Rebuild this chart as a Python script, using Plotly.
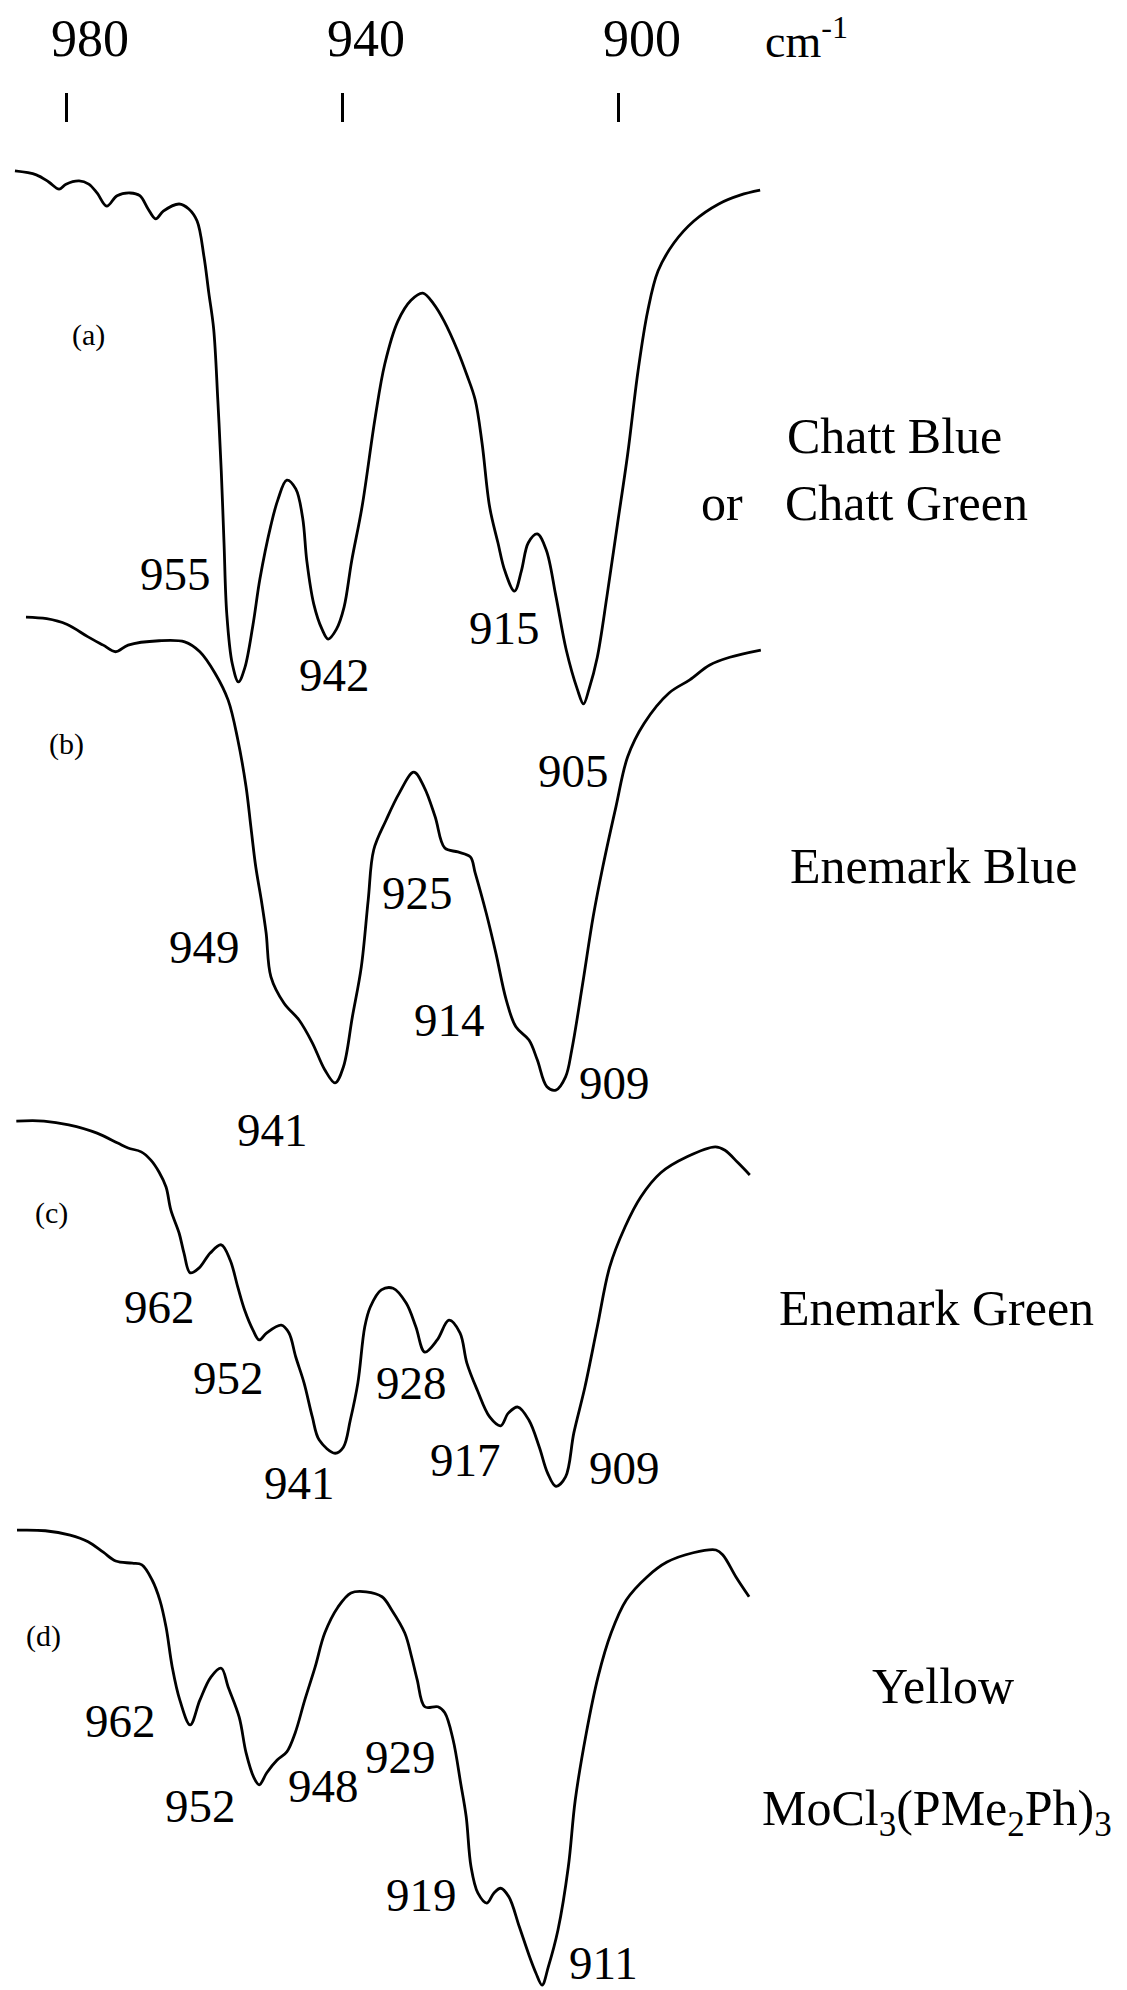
import plotly.graph_objects as go

# Wavenumber scale printed across the top (cm-1)
tick_values = [980, 940, 900]
tick_labels = ["980", "940", "900"]

# (a) Chatt Blue / Chatt Green
wn_a = [987.4, 984.3, 982.5, 981.0, 980.0, 978.1, 976.7, 975.5, 974.1, 972.6,
        970.7, 969.3, 968.1, 967.0, 965.9, 963.6, 962.2, 961.0, 960.0, 959.3,
        958.6, 958.0, 957.5, 957.1, 956.7, 955.9, 955.0, 954.1, 952.9, 951.9,
        950.3, 949.3, 948.0, 946.7, 945.7, 945.1, 944.1, 942.9, 942.0, 940.8,
        939.7, 938.6, 937.1, 935.2, 933.8, 931.9, 930.0, 928.3, 926.7, 925.2,
        923.3, 921.9, 920.7, 919.7, 918.6, 917.4, 916.4, 915.0, 914.0, 913.0,
        911.7, 910.4, 909.0, 907.5, 905.9, 905.0, 904.2, 903.0, 901.6, 900.1,
        898.6, 897.1, 895.7, 894.2, 891.9, 889.0, 885.4, 882.3, 879.4]
t_a = [98.0, 97.3, 96.0, 94.7, 95.6, 96.2, 95.6, 94.0, 91.6, 93.5,
       94.0, 93.5, 91.1, 89.3, 90.7, 92.0, 91.1, 88.9, 82.4, 75.8,
       69.3, 56.4, 43.5, 30.4, 17.5, 8.4, 5.1, 7.6, 15.5, 23.8,
       33.6, 38.2, 41.8, 40.2, 34.9, 27.1, 19.3, 14.7, 12.9, 14.7,
       18.7, 27.1, 36.9, 53.1, 62.9, 70.7, 74.5, 75.8, 73.8, 70.7,
       65.5, 60.9, 56.4, 48.5, 36.9, 30.4, 25.3, 21.6, 25.3, 30.4,
       32.0, 29.1, 20.7, 10.9, 3.8, 1.1, 3.8, 9.6, 20.7, 33.6,
       46.5, 61.6, 72.5, 79.8, 84.9, 88.9, 92.0, 93.6, 94.5]

# (b) Enemark Blue
wn_b = [985.8, 982.8, 979.9, 976.8, 974.6, 972.8, 971.0, 966.5, 962.8, 960.6,
        958.4, 956.5, 955.1, 953.9, 953.2, 952.5, 951.7, 951.0, 950.3, 948.4,
        946.2, 944.3, 942.5, 941.0, 939.8, 938.5, 937.2, 936.2, 935.4, 933.6,
        931.7, 929.6, 928.1, 926.5, 925.1, 923.2, 921.4, 920.7, 919.1, 917.7,
        916.2, 914.8, 912.9, 911.7, 910.3, 909.0, 907.6, 906.7, 905.1, 903.6,
        902.2, 900.3, 898.6, 896.2, 892.6, 889.6, 886.7, 883.8, 879.3]
t_b = [87.8, 87.5, 86.5, 84.2, 82.7, 81.5, 82.7, 83.5, 83.3, 81.5,
       77.6, 72.7, 65.5, 56.9, 49.6, 42.4, 36.4, 30.4, 22.4, 17.6,
       14.5, 10.4, 5.5, 3.1, 6.0, 15.1, 24.2, 36.4, 45.5, 50.9,
       55.8, 59.6, 56.9, 51.5, 45.8, 45.1, 44.2, 41.3, 34.0, 26.7,
       18.2, 13.3, 10.9, 7.3, 2.4, 1.8, 4.2, 9.1, 21.3, 33.3,
       42.4, 53.3, 62.4, 68.5, 74.0, 76.4, 79.1, 80.5, 81.8]

# (c) Enemark Green
wn_c = [987.2, 983.2, 979.6, 975.5, 972.5, 971.0, 969.1, 967.7, 966.5, 965.5,
        964.8, 963.6, 962.9, 962.0, 960.7, 959.1, 957.5, 956.2, 955.1, 954.1,
        952.9, 952.0, 950.9, 948.8, 947.7, 946.7, 945.5, 944.3, 943.3, 941.0,
        939.8, 938.8, 937.7, 936.7, 935.9, 934.3, 932.6, 930.7, 929.3, 928.0,
        926.2, 924.5, 922.9, 921.9, 920.4, 918.6, 917.0, 915.9, 914.5, 912.9,
        911.4, 910.2, 909.0, 907.6, 906.4, 904.8, 903.0, 901.2, 899.0, 896.7,
        893.8, 890.0, 885.9, 884.5, 882.6, 880.9]
t_c = [68.9, 68.9, 68.2, 66.7, 64.9, 64.0, 63.3, 61.8, 59.6, 56.9,
       52.7, 48.5, 44.9, 41.3, 42.2, 44.9, 46.4, 43.6, 38.7, 34.5,
       30.9, 29.1, 30.4, 31.8, 30.4, 26.0, 21.3, 15.1, 10.9, 8.5,
       9.6, 14.5, 21.3, 31.5, 35.1, 38.2, 38.5, 35.8, 31.5, 26.9,
       29.1, 32.7, 30.4, 24.9, 20.0, 15.1, 13.5, 15.8, 16.9, 14.5,
       9.6, 4.9, 2.5, 4.2, 12.2, 20.5, 31.5, 42.4, 49.6, 55.1,
       59.5, 62.4, 64.2, 63.6, 61.3, 59.1]

# (d) Yellow MoCl3(PMe2Ph)3
wn_d = [987.1, 983.0, 979.4, 976.8, 974.6, 972.8, 970.4, 969.0, 967.5, 966.4,
        965.5, 964.6, 963.5, 962.0, 960.6, 959.0, 957.5, 956.5, 954.9, 953.9,
        952.8, 952.0, 950.9, 949.4, 948.0, 946.8, 945.4, 943.9, 942.5, 940.6,
        938.7, 936.5, 934.2, 932.8, 930.9, 929.9, 929.1, 928.0, 926.1, 925.1,
        923.9, 922.8, 922.0, 921.3, 920.3, 919.0, 918.0, 917.0, 915.8, 914.3,
        912.8, 911.9, 911.0, 910.1, 908.7, 907.2, 906.2, 904.6, 902.9, 901.0,
        898.8, 895.8, 892.9, 889.1, 885.8, 884.8, 882.9, 881.0]
t_d = [83.6, 83.5, 82.7, 81.5, 79.6, 78.0, 77.6, 77.3, 74.5, 70.9,
       66.0, 58.7, 52.7, 48.2, 52.7, 56.9, 58.5, 55.1, 49.6, 43.1,
       38.7, 37.3, 39.5, 41.8, 43.3, 46.7, 52.7, 58.7, 64.9, 69.6,
       72.2, 72.4, 71.5, 69.1, 64.9, 60.5, 56.4, 51.5, 51.5, 50.4,
       45.5, 37.6, 31.5, 22.4, 17.6, 15.8, 17.6, 18.5, 16.9, 11.5,
       6.0, 3.1, 0.9, 4.2, 10.9, 22.4, 34.5, 46.7, 56.9, 64.9,
       70.9, 75.1, 77.8, 79.5, 80.0, 79.1, 75.1, 71.5]

spectra = [wn_a, wn_b, wn_c, wn_d]
transmittance = [t_a, t_b, t_c, t_d]
# vertical stacking offset of each spectrum
stack_offsets = [232.73, 161.82, 89.09, 0.0]

panel_letters = ["(a)", "(b)", "(c)", "(d)"]

# band assignments: (text, wavenumber position, stacked-ordinate position)
band_labels = [
    ("955", 964.06, 257.45), ("942", 941.16, 239.09), ("915", 916.52, 247.64),
    ("905", 906.52, 221.64),
    ("949", 960.00, 189.64), ("925", 928.99, 199.45), ("914", 924.49, 176.36),
    ("909", 900.58, 164.91), ("941", 950.14, 156.36),
    ("962", 966.52, 124.18), ("952", 956.38, 111.27), ("941", 946.09, 92.18),
    ("928", 929.86, 110.36), ("917", 922.17, 96.36), ("909", 898.99, 94.91),
    ("962", 972.03, 48.91), ("952", 960.58, 33.45), ("948", 942.75, 37.09),
    ("929", 931.59, 42.36), ("919", 928.41, 17.27), ("911", 902.17, 5.0),
]

W, H = 1127, 1990
SERIF = "Liberation Serif"

fig = go.Figure()
for wn, t, off in zip(spectra, transmittance, stack_offsets):
    fig.add_trace(go.Scatter(
        x=wn, y=[v + off for v in t], mode="lines",
        line=dict(color="black", width=2.8, shape="spline", smoothing=1.0),
        hoverinfo="skip", showlegend=False))

annotations = []
for text, x, y in band_labels:
    annotations.append(dict(text=text, x=x, y=y, xref="x", yref="y",
                            showarrow=False, xanchor="center", yanchor="middle",
                            font=dict(family=SERIF, size=47, color="black")))

# panel letters at the left of each trace
letter_pos = [(88, 335), (66, 744), (51, 1213), (43, 1636)]
for letter, (px, py) in zip(panel_letters, letter_pos):
    annotations.append(dict(text=letter, x=px / W, y=1 - py / H, xref="paper",
                            yref="paper", showarrow=False, xanchor="center",
                            yanchor="middle",
                            font=dict(family=SERIF, size=30, color="black")))

# sample names on the right
def side_text(text, px, py, anchor="left", size=50):
    return dict(text=text, x=px / W, y=1 - py / H, xref="paper", yref="paper",
                showarrow=False, xanchor=anchor, yanchor="middle",
                font=dict(family=SERIF, size=size, color="black"))

annotations += [
    side_text("Chatt Blue", 785, 436),
    side_text("or", 745, 503, anchor="right"),
    side_text("Chatt Green", 783, 503),
    side_text("Enemark Blue", 788, 866),
    side_text("Enemark Green", 777, 1308),
    side_text("Yellow", 870, 1686),
    side_text("MoCl<sub>3</sub>(PMe<sub>2</sub>Ph)<sub>3</sub>", 760, 1812),
    dict(text="cm<sup>-1</sup>", x=763 / W, y=1 - 38 / H, xref="paper",
         yref="paper", showarrow=False, xanchor="left", yanchor="middle",
         font=dict(family=SERIF, size=46, color="black")),
]

x_px0, px_per_cm = 66.0, 6.9
x_left = 980 + x_px0 / px_per_cm
x_right = 980 - (W - x_px0) / px_per_cm

fig.update_layout(
    width=W, height=H,
    margin=dict(l=0, r=0, t=0, b=0),
    paper_bgcolor="white", plot_bgcolor="white",
    annotations=annotations,
    xaxis=dict(range=[x_left, x_right], side="top", anchor="free",
               position=1 - 122 / H, tickmode="array",
               tickvals=tick_values, ticktext=tick_labels,
               ticks="outside", ticklen=29, tickwidth=3, tickcolor="black",
               ticklabelstandoff=16, ticklabelshift=-24,
               showline=False, showgrid=False, zeroline=False,
               automargin=False, fixedrange=True,
               tickfont=dict(family=SERIF, size=52, color="black")),
    yaxis=dict(range=[0, H / 5.5], visible=False, fixedrange=True),
)

fig.write_html("out.html")
